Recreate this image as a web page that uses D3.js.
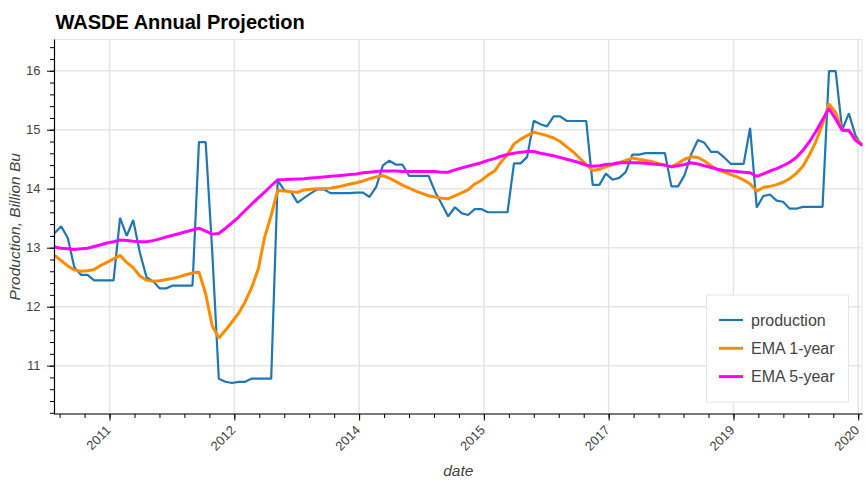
<!DOCTYPE html>
<html><head><meta charset="utf-8">
<script src="https://cdn.jsdelivr.net/npm/d3@7"></script>
<style>
html,body{margin:0;padding:0;background:#fff;}
text{font-family:"Liberation Sans", Arial, Helvetica, sans-serif;}
</style></head><body>
<svg id="chart" width="865" height="481"></svg>
<script>
const chartTitle = "WASDE Annual Projection";
const xAxisLabel = "date";
const yAxisLabel = "Production, Billion Bu";
const firstMonth = "2010-07-01";
const lastMonth = "2020-10-01";

const production = [13.245, 13.365, 13.16, 12.664, 12.54, 12.54, 12.447, 12.447, 12.447, 12.447,
 13.505, 13.2, 13.47, 12.914, 12.497, 12.433, 12.31, 12.31, 12.358, 12.358, 12.358, 12.358,
 14.79, 14.79, 12.97, 10.779, 10.727, 10.706, 10.725, 10.725, 10.78, 10.78, 10.78, 10.78,
 14.14, 13.97, 13.95, 13.763, 13.843, 13.92, 13.989, 13.989, 13.925, 13.925, 13.925, 13.925,
 13.935, 13.935, 13.86, 14.032, 14.395, 14.475, 14.407, 14.407, 14.216, 14.216, 14.216, 14.216,
 13.95, 13.74, 13.53, 13.686, 13.585, 13.555, 13.654, 13.654, 13.601, 13.601, 13.601, 13.601,
 14.43, 14.43, 14.54, 15.153, 15.093, 15.057, 15.226, 15.226, 15.148, 15.148, 15.148, 15.148,
 14.065, 14.065, 14.255, 14.153, 14.184, 14.28, 14.578, 14.578, 14.604, 14.604, 14.604, 14.604,
 14.04, 14.04, 14.23, 14.586, 14.827, 14.778, 14.626, 14.626, 14.53, 14.42, 14.42, 14.42,
 15.03, 13.68, 13.875, 13.901, 13.799, 13.779, 13.661, 13.661, 13.692, 13.692, 13.692, 13.692,
 15.995, 15.995, 14.995, 15.278, 14.9, 14.722];

const ema1Year = [12.87, 12.78, 12.69, 12.62, 12.60, 12.61, 12.63, 12.70, 12.75, 12.81,
 12.87, 12.75, 12.66, 12.52, 12.45, 12.43, 12.44, 12.46, 12.48, 12.51, 12.54, 12.57,
 12.59, 12.22, 11.68, 11.47, 11.60, 11.74, 11.89, 12.08, 12.33, 12.65, 13.17, 13.55,
 13.97, 13.96, 13.95, 13.94, 13.98, 13.99, 14.00, 14.00, 14.01, 14.03, 14.05, 14.08,
 14.10, 14.13, 14.17, 14.20, 14.22, 14.18, 14.12, 14.06, 14.01, 13.96, 13.92, 13.88,
 13.86, 13.84, 13.83, 13.88, 13.93, 13.98, 14.08, 14.14, 14.23, 14.30, 14.45, 14.58,
 14.76, 14.84, 14.90, 14.96, 14.93, 14.90, 14.86, 14.80, 14.71, 14.62, 14.52, 14.41,
 14.31, 14.33, 14.37, 14.41, 14.44, 14.48, 14.52, 14.50, 14.48, 14.46, 14.43, 14.40,
 14.37, 14.43, 14.50, 14.54, 14.53, 14.47, 14.39, 14.32, 14.28, 14.24, 14.20, 14.15,
 14.08, 13.96, 14.02, 14.04, 14.07, 14.11, 14.17, 14.26, 14.38, 14.58, 14.80, 15.10,
 15.44, 15.29, 14.99, 14.98, 14.84, 14.75];

const ema5Year = [13.01, 12.99, 12.98, 12.97, 12.98, 12.99, 13.02, 13.05, 13.08, 13.10,
 13.13, 13.12, 13.11, 13.10, 13.10, 13.12, 13.15, 13.18, 13.21, 13.24, 13.27, 13.30,
 13.33, 13.28, 13.23, 13.24, 13.33, 13.42, 13.52, 13.63, 13.74, 13.85, 13.94, 14.05,
 14.15, 14.155, 14.16, 14.165, 14.17, 14.18, 14.19, 14.20, 14.21, 14.22, 14.23, 14.24,
 14.25, 14.27, 14.28, 14.29, 14.30, 14.30, 14.30, 14.29, 14.29, 14.29, 14.29, 14.29,
 14.29, 14.28, 14.28, 14.32, 14.35, 14.38, 14.41, 14.44, 14.48, 14.51, 14.55, 14.58,
 14.60, 14.62, 14.63, 14.63, 14.60, 14.58, 14.56, 14.53, 14.50, 14.47, 14.44, 14.40,
 14.38, 14.39, 14.41, 14.42, 14.44, 14.44, 14.44, 14.44, 14.43, 14.42, 14.41, 14.40,
 14.37, 14.39, 14.41, 14.44, 14.42, 14.39, 14.36, 14.33, 14.31, 14.30, 14.29, 14.28,
 14.27, 14.21, 14.25, 14.30, 14.34, 14.39, 14.45, 14.53, 14.65, 14.80, 14.97, 15.17,
 15.36, 15.18, 14.99, 14.99, 14.82, 14.74];

const seriesNames = ["production", "EMA 1-year", "EMA 5-year"];
const seriesColors = ["#1f77b4", "#ff8c00", "#ff00ff"];
const seriesWidths = [2.2, 3, 3];

// tick positions (epoch ms) and their labels as shown on the chart
const xTickTimes = [1.30e12, 1.35e12, 1.40e12, 1.45e12, 1.50e12, 1.55e12, 1.60e12];
const xTickLabels = ["2011", "2012", "2014", "2015", "2017", "2019", "2020"];
const xMinorStep = 1e10;
const yTicks = [11, 12, 13, 14, 15, 16];
const yTickLabels = ["11", "12", "13", "14", "15", "16"];
const yMinorStep = 0.2;
const yDomain = [10.18, 16.53];

const W = 865, H = 481;
const plot = {left: 54.5, right: 862, top: 39.5, bottom: 414};

const months = d3.utcMonth.range(new Date(firstMonth + "T00:00:00Z"), new Date(new Date(lastMonth + "T00:00:00Z").getTime() + 1));
const series = [production, ema1Year, ema5Year];

const svg = d3.select("#chart");
svg.append("rect").attr("width", W).attr("height", H).attr("fill", "#fff");

const x = d3.scaleUtc().domain([months[0], months[months.length - 1]]).range([plot.left, plot.right]);
const y = d3.scaleLinear().domain(yDomain).range([plot.bottom, plot.top]);

// frame outline
svg.append("rect").attr("x", plot.left).attr("y", plot.top)
  .attr("width", plot.right - plot.left).attr("height", plot.bottom - plot.top)
  .attr("fill", "none").attr("stroke", "#e5e5e5").attr("stroke-width", 1);

// grid
const grid = svg.append("g");
grid.selectAll("line.gx").data(xTickTimes).join("line").attr("class", "gx")
  .attr("x1", d => x(new Date(d))).attr("x2", d => x(new Date(d)))
  .attr("y1", plot.top).attr("y2", plot.bottom)
  .attr("stroke", "#e5e5e5").attr("stroke-width", 1.5);
grid.selectAll("line.gy").data(yTicks).join("line").attr("class", "gy")
  .attr("x1", plot.left).attr("x2", plot.right)
  .attr("y1", d => y(d)).attr("y2", d => y(d))
  .attr("stroke", "#e5e5e5").attr("stroke-width", 1.5);

// lines
series.forEach((vals, si) => {
  const line = d3.line().x((d, i) => x(months[i])).y(d => y(d)).curve(d3.curveLinear);
  svg.append("path").datum(vals).attr("d", line)
    .attr("fill", "none").attr("stroke", seriesColors[si])
    .attr("stroke-width", seriesWidths[si]).attr("stroke-linejoin", "bevel");
});

// x axis
const xMinor = d3.range(1.28e12, 1.61e12, xMinorStep).map(d => new Date(d))
  .filter(d => d >= x.domain()[0] && d <= x.domain()[1]);
const gxMinor = svg.append("g").attr("transform", `translate(0,${plot.bottom})`)
  .call(d3.axisBottom(x).tickValues(xMinor).tickSize(4).tickFormat(""));
const gx = svg.append("g").attr("transform", `translate(0,${plot.bottom})`)
  .call(d3.axisBottom(x).tickValues(xTickTimes.map(d => new Date(d))).tickSize(6.5).tickFormat(""));
[gxMinor, gx].forEach(g => { g.select(".domain").remove(); g.selectAll("line").attr("stroke", "#000"); });
svg.append("line").attr("x1", plot.left).attr("x2", plot.right + 0.5)
  .attr("y1", plot.bottom).attr("y2", plot.bottom).attr("stroke", "#000").attr("stroke-width", 1.2);
svg.append("g").selectAll("text").data(xTickTimes).join("text")
  .attr("transform", (d) => `translate(${x(new Date(d)) + 2},${plot.bottom + 17}) rotate(-45)`)
  .attr("text-anchor", "end").attr("font-size", "13px").attr("fill", "#444")
  .text((d, i) => xTickLabels[i]);

// y axis
const yMinor = d3.range(10.2, 16.5, yMinorStep).filter(v => v >= yDomain[0] && v <= yDomain[1]);
const gyMinor = svg.append("g").attr("transform", `translate(${plot.left},0)`)
  .call(d3.axisLeft(y).tickValues(yMinor).tickSize(4.5).tickFormat(""));
const gy = svg.append("g").attr("transform", `translate(${plot.left},0)`)
  .call(d3.axisLeft(y).tickValues(yTicks).tickSize(7.5).tickPadding(6.5).tickFormat((d, i) => yTickLabels[i]));
[gyMinor, gy].forEach(g => { g.select(".domain").remove(); g.selectAll("line").attr("stroke", "#000"); });
gy.selectAll("text").attr("font-size", "13px").attr("fill", "#444")
  .attr("font-family", "'Liberation Sans', Arial, sans-serif");
svg.append("line").attr("x1", plot.left).attr("x2", plot.left)
  .attr("y1", plot.top).attr("y2", plot.bottom + 0.5).attr("stroke", "#000").attr("stroke-width", 1.2);

// axis labels
svg.append("text").attr("x", (plot.left + plot.right) / 2).attr("y", 476)
  .attr("text-anchor", "middle").attr("font-size", "15.5px").attr("font-style", "italic")
  .attr("fill", "#444").text(xAxisLabel);
svg.append("text").attr("transform", `translate(19.5,${(plot.top + plot.bottom) / 2}) rotate(-90)`)
  .attr("text-anchor", "middle").attr("font-size", "15.5px").attr("font-style", "italic")
  .attr("fill", "#444").text(yAxisLabel);

// title
svg.append("text").attr("x", 55.5).attr("y", 29).attr("font-size", "20px")
  .attr("font-weight", "bold").attr("fill", "#000").text(chartTitle);

// legend
const lg = svg.append("g");
lg.append("rect").attr("x", 706.5).attr("y", 295).attr("width", 142).attr("height", 107)
  .attr("fill", "#fff").attr("stroke", "#e5e5e5").attr("stroke-width", 1);
seriesNames.forEach((name, i) => {
  const cy = 320 + i * 28.3;
  lg.append("line").attr("x1", 719).attr("x2", 743).attr("y1", cy).attr("y2", cy)
    .attr("stroke", seriesColors[i]).attr("stroke-width", seriesWidths[i]);
  lg.append("text").attr("x", 751).attr("y", cy + 5.5).attr("font-size", "16px")
    .attr("fill", "#444").text(name);
});
</script>
</body></html>
